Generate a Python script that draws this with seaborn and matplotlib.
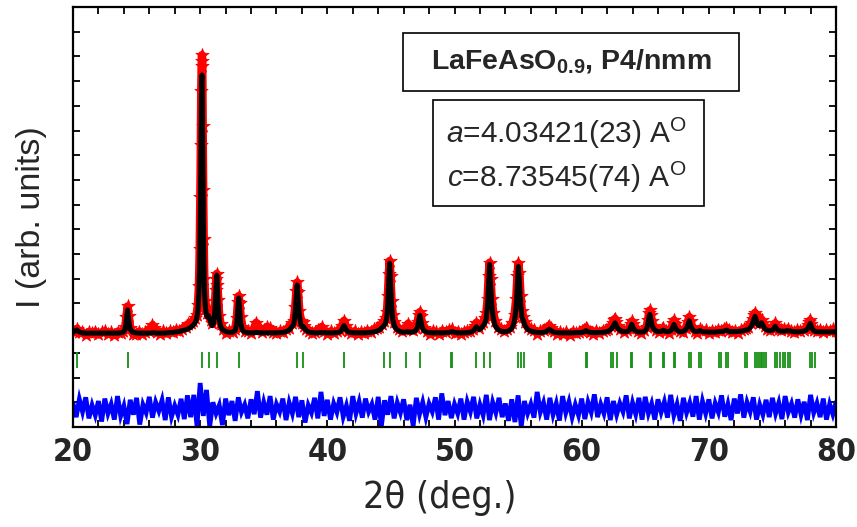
import numpy as np
import matplotlib
matplotlib.use("Agg")
import matplotlib.pyplot as plt
from matplotlib import font_manager
from matplotlib.patches import Rectangle
from matplotlib.ticker import MultipleLocator
import seaborn as sns

# ---------------- data ----------------
two_theta = [
    20.00, 20.15, 20.30, 20.45, 20.70, 21.00, 21.25, 21.50, 21.75, 22.00, 22.25, 22.50, 22.75, 23.00, 23.25, 23.50, 23.75, 23.95,
    24.10, 24.20, 24.29, 24.38, 24.50, 24.70,
    24.95, 25.20, 25.45, 25.70, 25.95, 26.10, 26.25, 26.40, 26.60, 26.85, 27.10, 27.35, 27.60, 27.85, 28.10, 28.35, 28.60,
    28.85, 29.05, 29.25, 29.45, 29.60, 29.72, 29.82, 29.90, 29.96, 30.01, 30.05, 30.08, 30.11, 30.14, 30.17, 30.20, 30.24, 30.28,
    30.33, 30.40, 30.48, 30.57, 30.66, 30.75, 30.85, 30.95, 31.05, 31.14, 31.21, 31.26, 31.31, 31.36, 31.42, 31.50, 31.62, 31.80,
    32.05, 32.30, 32.55, 32.75, 32.88, 32.96, 33.03, 33.10, 33.19, 33.32, 33.50,
    33.75, 34.00, 34.20, 34.40, 34.60, 34.85, 35.05, 35.25, 35.50, 35.75, 36.00, 36.25, 36.50, 36.75, 37.00, 37.20,
    37.35, 37.47, 37.56, 37.63, 37.70, 37.80, 37.92, 38.02, 38.10, 38.20, 38.35, 38.55, 38.80,
    39.05, 39.30, 39.55, 39.75, 40.00, 40.25, 40.50, 40.75, 41.00, 41.15, 41.31, 41.45, 41.65, 41.90,
    42.15, 42.40, 42.65, 42.90, 43.15, 43.40, 43.65, 43.90, 44.10, 44.30, 44.45, 44.58,
    44.68, 44.76, 44.83, 44.90, 44.97, 45.05, 45.15, 45.28, 45.45, 45.65, 45.90,
    46.15, 46.35, 46.55, 46.75, 46.95, 47.10, 47.20, 47.27, 47.34, 47.45, 47.60, 47.80,
    48.05, 48.30, 48.55, 48.80, 49.05, 49.30, 49.55, 49.78, 50.00, 50.25, 50.50, 50.75, 51.00, 51.25, 51.45,
    51.62, 51.72, 51.82, 51.95, 52.10, 52.25, 52.38, 52.50, 52.60, 52.68, 52.76, 52.84, 52.93, 53.05, 53.20, 53.40, 53.65, 53.90,
    54.15, 54.35, 54.55, 54.72, 54.85, 54.94, 55.02, 55.10, 55.20, 55.30, 55.42, 55.55, 55.75, 56.00,
    56.25, 56.50, 56.75, 57.00, 57.20, 57.35, 57.45, 57.60, 57.80, 58.05, 58.30, 58.55, 58.80, 59.05, 59.30, 59.55, 59.80, 60.05,
    60.20, 60.33, 60.45, 60.65, 60.90, 61.15, 61.40, 61.65, 61.90, 62.10,
    62.30, 62.45, 62.55, 62.63, 62.72, 62.85, 63.05, 63.30, 63.55, 63.75, 63.86, 63.94, 64.02, 64.15, 64.40, 64.65, 64.90, 65.10,
    65.22, 65.30, 65.36, 65.43, 65.52, 65.65, 65.85, 66.10, 66.30, 66.43, 66.60, 66.85, 67.05, 67.17, 67.26, 67.34, 67.48, 67.70,
    67.95, 68.20, 68.35, 68.46, 68.56, 68.70, 68.90, 69.10, 69.30, 69.50,
    69.75, 70.00, 70.25, 70.50, 70.75, 70.95, 71.20, 71.38, 71.55, 71.80, 72.05, 72.30, 72.55, 72.75, 72.90, 73.10, 73.30, 73.45,
    73.55, 73.63, 73.72, 73.82, 73.95, 74.05, 74.15, 74.25, 74.40, 74.60, 74.80, 75.00, 75.12, 75.22, 75.32, 75.50, 75.70, 75.95,
    76.20, 76.45, 76.70, 76.95, 77.20, 77.45, 77.65, 77.80, 77.90, 77.97, 78.05, 78.15, 78.30, 78.50, 78.75, 79.00, 79.25, 79.50,
    79.75, 80.00,
]

i_calc = [
    3.84, 3.88, 3.93, 3.86, 3.81, 3.80, 3.80, 3.80, 3.80, 3.80, 3.80, 3.80, 3.80, 3.80, 3.80, 3.80, 3.81, 3.84,
    3.95, 4.35, 4.74, 4.30, 3.95, 3.83,
    3.81, 3.80, 3.80, 3.80, 3.80, 3.80, 3.81, 3.81, 3.80, 3.80, 3.80, 3.81, 3.82, 3.83, 3.85, 3.87, 3.90,
    3.93, 3.97, 4.03, 4.12, 4.22, 4.38, 4.70, 5.40, 6.60, 8.50, 10.6, 12.6, 13.9, 14.25, 13.5, 11.5, 9.0, 7.0,
    5.60, 4.90, 4.55, 4.45, 4.50, 4.40, 4.20, 4.10, 4.20, 4.55, 5.25, 5.80, 6.15, 5.60, 4.90, 4.35, 4.05, 3.92,
    3.86, 3.83, 3.84, 3.90, 4.20, 4.80, 5.22, 4.80, 4.20, 3.92, 3.84,
    3.82, 3.81, 3.81, 3.82, 3.82, 3.81, 3.81, 3.81, 3.81, 3.81, 3.81, 3.82, 3.83, 3.86, 3.92, 4.05,
    4.15, 4.60, 5.30, 5.75, 5.20, 4.50, 4.15, 4.05, 4.07, 4.00, 3.90, 3.84, 3.82,
    3.81, 3.81, 3.82, 3.82, 3.81, 3.81, 3.81, 3.82, 3.85, 3.95, 4.11, 3.95, 3.85, 3.82,
    3.81, 3.81, 3.81, 3.81, 3.82, 3.83, 3.85, 3.88, 3.93, 4.02, 4.10, 4.20,
    4.45, 5.05, 5.90, 6.63, 5.80, 4.90, 4.35, 4.08, 3.95, 3.88, 3.84,
    3.84, 3.86, 3.84, 3.85, 3.90, 4.05, 4.35, 4.52, 4.35, 4.05, 3.90, 3.84,
    3.82, 3.81, 3.81, 3.81, 3.81, 3.82, 3.83, 3.86, 3.83, 3.81, 3.81, 3.81, 3.82, 3.84, 3.88,
    3.98, 4.06, 3.98, 3.95, 4.00, 4.10, 4.20, 4.40, 4.95, 5.80, 6.58, 5.75, 4.95, 4.40, 4.10, 3.95, 3.88, 3.85,
    3.87, 3.92, 4.02, 4.30, 4.90, 5.75, 6.50, 5.90, 5.00, 4.45, 4.30, 4.10, 3.95, 3.88,
    3.85, 3.83, 3.82, 3.83, 3.86, 3.92, 3.96, 3.90, 3.84, 3.82, 3.81, 3.81, 3.81, 3.81, 3.81, 3.82, 3.82, 3.83,
    3.86, 3.90, 3.87, 3.83, 3.82, 3.82, 3.83, 3.83, 3.85, 3.88,
    3.95, 4.05, 4.15, 4.22, 4.12, 3.98, 3.90, 3.86, 3.86, 3.92, 4.05, 4.16, 4.05, 3.92, 3.85, 3.84, 3.86, 3.95,
    4.20, 4.45, 4.56, 4.40, 4.15, 3.98, 3.88, 3.86, 3.88, 3.92, 3.87, 3.86, 3.92, 4.05, 4.15, 4.05, 3.92, 3.86,
    3.86, 3.95, 4.12, 4.30, 4.12, 3.95, 3.87, 3.87, 3.90, 3.86,
    3.85, 3.84, 3.84, 3.84, 3.86, 3.87, 3.88, 3.92, 3.88, 3.86, 3.86, 3.87, 3.88, 3.90, 3.92, 3.95, 4.05, 4.20,
    4.38, 4.48, 4.35, 4.15, 4.10, 4.15, 4.22, 4.12, 3.98, 3.92, 3.90, 3.92, 3.98, 4.08, 3.98, 3.90, 3.88, 3.88,
    3.90, 3.88, 3.86, 3.85, 3.86, 3.88, 3.92, 4.00, 4.12, 4.20, 4.08, 3.96, 3.88, 3.86, 3.85, 3.85, 3.85, 3.85,
    3.85, 3.85,
]

i_obs = [
    3.90, 3.86, 3.97, 3.83, 3.86, 3.74, 3.85, 3.79, 3.86, 3.75, 3.83, 3.88, 3.77, 3.84, 3.74, 3.86, 3.80, 3.88,
    4.05, 4.45, 4.88, 4.50, 4.02, 3.78,
    3.76, 3.86, 3.78, 3.84, 3.88, 4.00, 4.12, 4.02, 3.85, 3.77, 3.87, 3.79, 3.88, 3.84, 3.93, 3.90, 3.98,
    4.05, 4.15, 4.22, 4.30, 4.40, 4.55, 4.95, 5.70, 7.20, 9.30, 11.4, 13.6, 14.6, 15.05, 14.8, 12.2, 9.6, 7.6,
    6.00, 5.10, 4.80, 4.60, 4.75, 4.55, 4.35, 4.20, 4.40, 4.80, 5.55, 6.00, 6.20, 5.75, 5.15, 4.50, 4.15, 3.98,
    3.80, 3.90, 3.86, 3.98, 4.40, 5.05, 5.30, 5.00, 4.45, 4.05, 3.90,
    3.88, 3.80, 3.95, 4.22, 4.05, 3.84, 3.92, 4.05, 4.00, 3.85, 3.80, 3.88, 3.84, 3.95, 4.00, 4.20,
    4.30, 4.85, 5.50, 5.85, 5.45, 4.70, 4.30, 4.20, 4.25, 4.10, 3.98, 3.90, 3.80,
    3.86, 3.92, 4.05, 3.90, 3.78, 3.87, 3.82, 3.88, 3.94, 4.10, 4.30, 4.08, 3.88, 3.80,
    3.88, 3.77, 3.85, 3.82, 3.90, 3.86, 3.95, 4.02, 4.05, 4.18, 4.28, 4.40,
    4.65, 5.30, 6.20, 6.72, 6.10, 5.10, 4.55, 4.25, 4.05, 3.95, 3.88,
    3.95, 4.18, 3.98, 3.92, 4.00, 4.25, 4.55, 4.65, 4.50, 4.20, 4.00, 3.90,
    3.76, 3.88, 3.83, 3.78, 3.90, 3.84, 3.92, 3.95, 3.80, 3.86, 3.77, 3.85, 3.90, 3.88, 3.98,
    4.10, 4.22, 4.08, 4.02, 4.15, 4.25, 4.40, 4.60, 5.20, 6.10, 6.65, 6.00, 5.20, 4.62, 4.28, 4.05, 3.96, 3.88,
    3.95, 4.05, 4.20, 4.55, 5.20, 6.10, 6.62, 6.25, 5.30, 4.70, 4.45, 4.25, 4.05, 3.96,
    3.92, 3.78, 3.88, 3.92, 3.95, 4.05, 4.10, 4.00, 3.88, 3.78, 3.85, 3.76, 3.83, 3.74, 3.86, 3.80, 3.84, 3.90,
    3.92, 4.02, 3.95, 3.84, 3.78, 3.88, 3.82, 3.90, 3.94, 3.96,
    4.08, 4.22, 4.35, 4.38, 4.25, 4.08, 3.95, 3.86, 3.92, 4.02, 4.18, 4.28, 4.18, 4.00, 3.88, 3.80, 3.92, 4.05,
    4.35, 4.62, 4.72, 4.55, 4.30, 4.08, 3.92, 3.86, 3.95, 4.00, 3.90, 3.82, 3.98, 4.20, 4.32, 4.18, 3.98, 3.90,
    3.85, 4.02, 4.25, 4.45, 4.28, 4.05, 3.90, 3.82, 3.95, 3.88,
    3.92, 3.80, 3.90, 3.86, 3.94, 3.90, 3.98, 4.02, 3.92, 3.84, 3.90, 3.82, 3.92, 3.98, 4.00, 4.05, 4.22, 4.38,
    4.55, 4.62, 4.50, 4.30, 4.22, 4.28, 4.35, 4.22, 4.08, 3.98, 3.92, 4.02, 4.10, 4.20, 4.08, 3.95, 3.92, 3.96,
    3.98, 3.90, 3.84, 3.92, 3.88, 3.94, 4.00, 4.12, 4.25, 4.32, 4.18, 4.02, 3.92, 3.88, 3.94, 3.86, 3.92, 3.88,
    3.95, 3.90,
]

# difference curve (obs - calc, offset), scan from 20 deg in steps of 0.25 deg
diff_start = 20.0
diff_step = 0.25
i_diff = [
    0.95, 0.40, 1.12, 0.62, 1.20, 0.35, 0.88, 0.48, 1.05, 0.22, 1.15, 0.55, 0.92, 0.30, 1.25, 0.45, 0.85, 0.12, 1.10, 0.50,
    1.18, 0.10, 0.90, 0.58, 1.22, 0.38, 1.00, 0.65, 1.08, 0.28, 1.20, 0.42, 0.86, 0.50, 1.14, 0.32, 1.28, 0.40, 1.30, 0.05,
    1.78, 0.45, 1.50, 0.02, 1.00, 0.55, 0.88, 0.08, 1.15, 0.48, 1.05, 0.25, 1.20, 0.60, 0.90, 0.35, 1.12, 0.52, 1.45, 0.38,
    1.00, 0.50, 1.25, 0.30, 0.92, 0.62, 1.15, 0.28, 0.98, 0.55, 1.22, 0.40, 1.08, 0.18, 0.88, 0.58, 1.18, 0.35, 1.42, 0.45,
    1.10, 0.30, 0.95, 0.60, 1.20, 0.42, 0.86, 0.25, 1.25, 0.55, 1.02, 0.38, 1.15, 0.62, 0.92, 0.30, 1.22, 0.04, 1.08, 0.50,
    1.25, 0.35, 0.98, 0.58, 1.12, 0.28, 0.90, 0.05, 1.18, 0.52, 1.00, 0.40, 0.94, 0.62, 1.20, 0.30, 1.36, 0.48, 1.05, 0.36,
    0.92, 0.55, 1.15, 0.30, 1.02, 0.62, 1.22, 0.35, 0.90, 0.48, 1.30, 0.28, 1.00, 0.58, 1.18, 0.40, 0.95, 0.25, 1.12, 0.20,
    1.28, 0.02, 1.05, 0.55, 0.92, 0.38, 1.42, 0.60, 0.98, 0.30, 1.18, 0.50, 0.95, 0.26, 1.25, 0.58, 1.02, 0.40, 0.90, 0.48,
    1.15, 0.32, 1.00, 0.60, 1.32, 0.40, 0.92, 0.55, 1.20, 0.28, 1.05, 0.50, 0.96, 0.62, 1.28, 0.35, 0.98, 0.52, 1.18, 0.30,
    1.22, 0.55, 0.94, 0.30, 1.12, 0.60, 1.02, 0.38, 1.30, 0.48, 0.92, 0.25, 1.18, 0.58, 0.98, 0.42, 1.25, 0.30, 1.04, 0.55,
    1.12, 0.35, 0.96, 0.60, 1.28, 0.42, 0.92, 0.28, 1.15, 0.55, 1.32, 0.38, 1.00, 0.62, 1.20, 0.30, 0.90, 0.50, 1.10, 0.40,
    1.18, 0.55, 0.98, 0.32, 1.25, 0.60, 0.94, 0.38, 1.12, 0.50, 1.02, 0.28, 1.30, 0.58, 0.96, 0.40, 1.15, 0.30, 0.92, 0.52,
    1.00,
]

# Bragg reflection positions (deg)
bragg_pos = [
    20.31, 24.33, 30.14, 30.69, 31.34, 33.03, 37.61, 38.09, 41.31, 44.43, 44.90, 46.16, 47.31, 49.70, 49.82,
    51.69, 52.34, 52.79, 55.02, 55.23, 55.44, 57.41, 57.56, 60.32, 60.42, 62.28, 62.49, 62.78, 63.88, 63.98,
    65.37, 65.47, 66.42, 66.50, 67.26, 67.36, 68.46, 68.59, 69.25, 69.41, 70.80, 70.96, 71.33, 71.51, 72.84,
    73.02, 73.65, 73.81, 73.94, 74.10, 74.20, 74.34, 74.49, 75.20, 75.38, 75.59, 75.81, 76.01, 76.20, 76.38,
    77.95, 78.13, 78.35,
]
bragg_lo = 2.39
bragg_hi = 3.04

x_ticks = [20, 30, 40, 50, 60, 70, 80]
title_text = r"LaFeAsO$_{\mathbf{0.9}}$, P4/nmm"
lattice_a = r"$\mathit{a}$=4.03421(23) A$^{\mathrm{O}}$"
lattice_c = r"$\mathit{c}$=8.73545(74) A$^{\mathrm{O}}$"

# ---------------- styling ----------------
sns.set_style("ticks")
avail = {f.name for f in font_manager.fontManager.ttflist}
if "Liberation Sans Narrow" in avail:
    cond_font = dict(fontfamily="Liberation Sans Narrow")
else:
    cond_font = dict(fontfamily="DejaVu Sans", fontstretch="condensed")
plt.rcParams["font.family"] = ["Liberation Sans", "DejaVu Sans"]
plt.rcParams["mathtext.fontset"] = "custom"
plt.rcParams["mathtext.rm"] = "Liberation Sans"
plt.rcParams["mathtext.it"] = "Liberation Sans:italic"
plt.rcParams["mathtext.bf"] = "Liberation Sans:bold"

fig = plt.figure(figsize=(8.57, 5.27), dpi=100)
ax = fig.add_axes([73 / 857, 100 / 527, 763 / 857, 420 / 527])

n = min(len(two_theta), len(i_calc), len(i_obs))
x_arr = np.array(two_theta[:n])
obs_arr = np.array(i_obs[:n])
diff_x = diff_start + diff_step * np.arange(len(i_diff))
diff_arr = np.array(i_diff)

# observed (red stars, dense band)
sns.lineplot(x=x_arr, y=obs_arr, color="red", linewidth=6.0, ax=ax, zorder=2,
             sort=False, estimator=None)
sns.scatterplot(x=x_arr, y=obs_arr, marker="*", s=100, color="red",
                edgecolor="red", linewidth=0.6, ax=ax, zorder=2, legend=False)
# calculated (black line)
sns.lineplot(x=x_arr, y=np.array(i_calc[:n]), color="black", linewidth=3.6, ax=ax,
             zorder=3, sort=False, estimator=None)
# difference (blue), dense noisy trace
sns.lineplot(x=diff_x, y=diff_arr, color="#0000ff", linewidth=3.4, ax=ax,
             zorder=2, sort=False, estimator=None)
ax.lines[-1].set_solid_joinstyle("miter")
# Bragg positions (green)
ax.vlines(bragg_pos, bragg_lo, bragg_hi, colors="#169116", linewidth=1.3, zorder=2)

ax.set_xlim(20, 80)
ax.set_ylim(0, 17)
ax.xaxis.set_major_locator(MultipleLocator(10))
ax.xaxis.set_minor_locator(MultipleLocator(2))
ax.yaxis.set_major_locator(MultipleLocator(1))
ax.set_xticks(x_ticks)
ax.set_xticklabels([str(v) for v in x_ticks], fontweight="bold", fontsize=23, **cond_font)
ax.set_yticklabels([])
ax.tick_params(which="both", direction="in", top=True, right=True, bottom=True, left=True,
               length=5, width=1.3, color="black", pad=7)
for sp in ax.spines.values():
    sp.set_linewidth(1.6)
    sp.set_color("black")
    sp.set_visible(True)

ax.set_xlabel("2\u03b8 (deg.)", fontsize=27, labelpad=5, **cond_font)
ax.xaxis.set_label_coords(0.481, -0.125)
ax.xaxis.label.set_va("top")
ax.set_ylabel("I (arb. units)", fontsize=24.5, labelpad=12)

# annotation boxes
ax.add_patch(Rectangle((0.4325, 0.800), 0.4404, 0.138, transform=ax.transAxes,
                       fill=False, edgecolor="black", linewidth=1.2, zorder=5))
ax.add_patch(Rectangle((0.4718, 0.526), 0.3552, 0.2526, transform=ax.transAxes,
                       fill=False, edgecolor="black", linewidth=1.2, zorder=5))
ax.text(0.6527, 0.872, title_text, transform=ax.transAxes, ha="center", va="center",
        fontsize=20.5, fontweight="bold", zorder=6)
ax.text(0.647, 0.698, lattice_a, transform=ax.transAxes, ha="center", va="center",
        fontsize=21.5, zorder=6)
ax.text(0.647, 0.595, lattice_c, transform=ax.transAxes, ha="center", va="center",
        fontsize=21.5, zorder=6)

fig.savefig("out.png", dpi=100)
